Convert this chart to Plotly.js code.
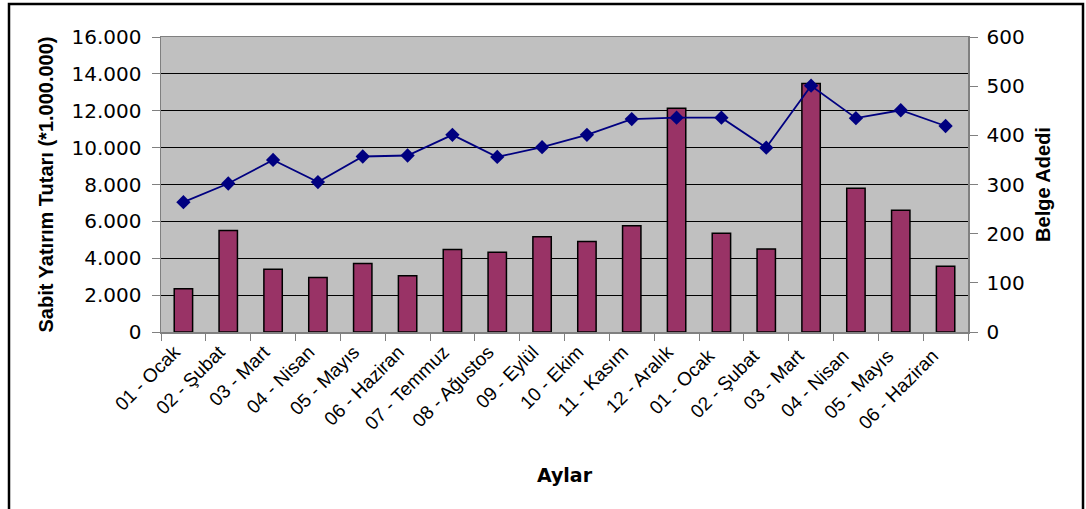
<!DOCTYPE html>
<html>
<head>
<meta charset="utf-8">
<script src="https://cdn.plot.ly/plotly-3.0.1.min.js"></script>
<style>
  html, body { margin: 0; padding: 0; background: #fff; }
  #chart { width: 1086px; height: 509px; }
</style>
</head>
<body>
<div id="chart"></div>
<script>
const months = ["01 - Ocak", "02 - Şubat", "03 - Mart", "04 - Nisan", "05 - Mayıs", "06 - Haziran",
  "07 - Temmuz", "08 - Ağustos", "09 - Eylül", "10 - Ekim", "11 - Kasım", "12 - Aralık",
  "01 - Ocak ", "02 - Şubat ", "03 - Mart ", "04 - Nisan ", "05 - Mayıs ", "06 - Haziran "];
const yatirimTutari = [2350, 5500, 3400, 2950, 3720, 3050, 4480, 4320, 5170, 4910, 5760, 12130,
  5350, 4500, 13480, 7790, 6610, 3560];
const belgeAdedi = [264, 302, 350, 305, 357, 359, 401, 356, 376, 401, 433, 436,
  436, 375, 501, 435, 451, 419];
const leftTicks = [0, 2000, 4000, 6000, 8000, 10000, 12000, 14000, 16000];
const leftTickText = ["0", "2.000", "4.000", "6.000", "8.000", "10.000", "12.000", "14.000", "16.000"];
const rightTicks = [0, 100, 200, 300, 400, 500, 600];

const font = "Liberation Sans, Arial, sans-serif";
const wide = "DejaVu Sans, Liberation Sans, sans-serif";

const traces = [
  {
    type: "bar",
    x: months,
    y: yatirimTutari,
    yaxis: "y",
    marker: { color: "#993366", line: { color: "#000000", width: 1.5 } },
    hoverinfo: "x+y"
  },
  {
    type: "scatter",
    mode: "lines+markers",
    x: months,
    y: belgeAdedi,
    yaxis: "y2",
    line: { color: "#000080", width: 1.8 },
    marker: { symbol: "diamond", size: 11, color: "#000080" }
  }
];

const layout = {
  width: 1086,
  height: 509,
  margin: { l: 161, r: 118, t: 37, b: 177 },
  paper_bgcolor: "#ffffff",
  plot_bgcolor: "#c0c0c0",
  showlegend: false,
  bargap: 0.59,
  font: { family: font, color: "#000", size: 19 },
  xaxis: {
    type: "category",
    range: [-0.5, 17.5],
    autorange: false,
    tickangle: -45,
    tickson: "boundaries",
    ticks: "outside",
    ticklen: 7,
    tickcolor: "#808080",
    ticklabelshift: -9,
    showline: true,
    linecolor: "#808080",
    linewidth: 1.5,
    mirror: true,
    showgrid: false,
    tickfont: { family: font, size: 19, color: "#000" },
    title: { text: "<b>Aylar</b>", font: { family: wide, size: 19, color: "#000" }, standoff: 36 }
  },
  yaxis: {
    range: [0, 16000],
    tickvals: leftTicks,
    ticktext: leftTickText,
    ticks: "outside",
    ticklen: 8,
    tickcolor: "#808080",
    ticklabelstandoff: 6,
    showline: true,
    linecolor: "#808080",
    linewidth: 1.5,
    showgrid: true,
    gridcolor: "#000000",
    gridwidth: 1,
    zeroline: false,
    tickfont: { family: wide, size: 20, color: "#000" },
    title: { text: "<b>Sabit Yatırım Tutarı (*1.000.000)</b>", font: { family: font, size: 20, color: "#000" }, standoff: 12 }
  },
  yaxis2: {
    overlaying: "y",
    side: "right",
    range: [0, 600],
    tickvals: rightTicks,
    ticks: "outside",
    ticklen: 8,
    tickcolor: "#808080",
    ticklabelstandoff: 5,
    showline: true,
    linecolor: "#808080",
    linewidth: 1.5,
    showgrid: false,
    zeroline: false,
    tickfont: { family: wide, size: 20, color: "#000" },
    title: { text: "<b>Belge Adedi</b>", font: { family: font, size: 20, color: "#000" }, standoff: 12 }
  },
  shapes: [
    {
      type: "rect", xref: "paper", yref: "paper",
      x0: (9 - 161) / 807, x1: (1083 - 161) / 807,
      y0: (332 - 515) / 295, y1: (332 - 4) / 295,
      line: { color: "#000000", width: 2.5 }, fillcolor: "rgba(0,0,0,0)", layer: "above"
    }
  ]
};

Plotly.newPlot("chart", traces, layout, { displayModeBar: false, staticPlot: true });
</script>
</body>
</html>
